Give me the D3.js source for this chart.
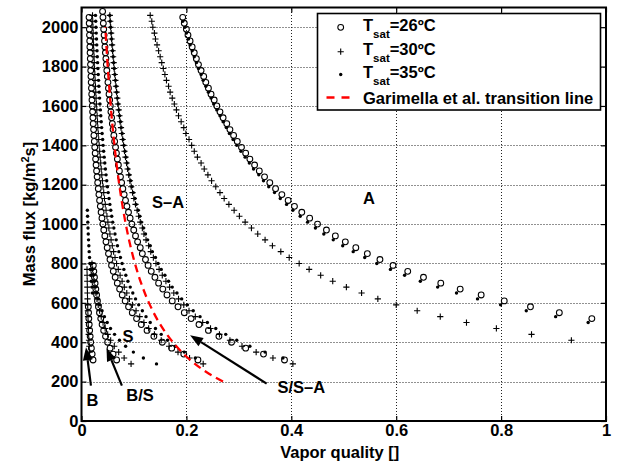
<!DOCTYPE html>
<html>
<head>
<meta charset="utf-8">
<script src="https://cdn.jsdelivr.net/npm/d3@7"></script>
<style>
  body { margin: 0; background: #fff; }
  text { font-family: "Liberation Sans", Arial, Helvetica, sans-serif; font-weight: bold; fill: #000; }
</style>
</head>
<body>
<svg id="chart" width="619" height="463"></svg>
<script>
// Mass flux levels [kg/m2s] of the runs at 26 ºC (circles)
const massFlux26 = [310, 340, 370, 400, 430, 460, 490, 520, 550, 580, 610, 640, 670, 700, 730, 760, 790, 820, 850, 880,
  910, 940, 970, 1000, 1030, 1060, 1090, 1120, 1150, 1180, 1210, 1240, 1270, 1300, 1330, 1360, 1390, 1420, 1450, 1480,
  1510, 1540, 1570, 1600, 1630, 1660, 1690, 1720, 1750, 1780, 1810, 1840, 1870, 1900, 1930, 1960, 1990, 2020, 2050, 2080];
// Mass flux levels [kg/m2s] of the runs at 30 ºC and 35 ºC
const massFlux30_35 = [290, 320, 350, 380, 410, 440, 470, 500, 530, 560, 590, 620, 650, 680, 710, 740, 770, 800, 830, 860,
  890, 920, 950, 980, 1010, 1040, 1070, 1100, 1130, 1160, 1190, 1220, 1250, 1280, 1310, 1340, 1370, 1400, 1430, 1460,
  1490, 1520, 1550, 1580, 1610, 1640, 1670, 1700, 1730, 1760, 1790, 1820, 1850, 1880, 1910, 1940, 1970, 2000, 2030, 2060];

// Transition vapor qualities, listed from the lowest mass flux upwards
// S-A / A transition
const qSA_A_26 = [0.973,0.911,0.856,0.806,0.762,0.722,0.685,0.652,0.622,0.594,0.569,0.545,0.523,0.503,0.484,0.467,0.450,0.435,0.420,0.406,
  0.394,0.382,0.370,0.359,0.349,0.339,0.330,0.321,0.313,0.305,0.297,0.290,0.283,0.277,0.270,0.264,0.258,0.253,0.247,0.242,
  0.237,0.233,0.228,0.223,0.219,0.215,0.211,0.207,0.203,0.200,0.196,0.193];
const qSA_A_35 = [0.966,0.904,0.848,0.799,0.755,0.715,0.679,0.646,0.616,0.589,0.563,0.540,0.518,0.498,0.480,0.462,0.446,0.431,0.417,0.403,
  0.391,0.379,0.368,0.357,0.347,0.338,0.328,0.320,0.312,0.304,0.296,0.289,0.282,0.276,0.270,0.264,0.258,0.252,0.247,0.242,
  0.237,0.232,0.228,0.223,0.219,0.215,0.211,0.207,0.204,0.200,0.197,0.193];
const qSA_A_30 = [0.934,0.858,0.791,0.734,0.684,0.640,0.600,0.565,0.534,0.505,0.479,0.456,0.434,0.415,0.396,0.380,0.364,0.350,0.336,0.324,
  0.312,0.301,0.291,0.281,0.272,0.264,0.256,0.248,0.241,0.234,0.228,0.221,0.215,0.210,0.205,0.199,0.195,0.190,0.185,0.181,
  0.177,0.173,0.169,0.166,0.162,0.159,0.156,0.153,0.150,0.147,0.144,0.141,0.139,0.136,0.134,0.131];
// S/S-A / S-A transition
const qSSA_SA_26 = [0.387,0.347,0.313,0.286,0.262,0.242,0.224,0.209,0.196,0.184,0.173,0.163,0.155,0.147,0.140,0.133,0.127,0.122,0.116,0.112,
  0.107,0.103,0.0996,0.0960,0.0927,0.0896,0.0866,0.0839,0.0813,0.0788,0.0765,0.0743,0.0722,0.0703,0.0684,0.0666,0.0649,0.0632,0.0617,0.0602,
  0.0588,0.0574,0.0561,0.0549,0.0537,0.0525,0.0514,0.0504,0.0493,0.0483,0.0474,0.0465,0.0456,0.0447,0.0439,0.0431,0.0423,0.0416,0.0409,0.0402];
const qSSA_SA_35 = [0.384,0.350,0.321,0.296,0.275,0.256,0.240,0.226,0.213,0.202,0.191,0.182,0.173,0.166,0.159,0.152,0.146,0.141,0.135,0.131,
  0.126,0.122,0.118,0.114,0.111,0.108,0.104,0.102,0.0988,0.0961,0.0936,0.0913,0.0890,0.0869,0.0848,0.0829,0.0810,0.0792,0.0775,0.0758,
  0.0743,0.0727,0.0713,0.0699,0.0685,0.0672,0.0660,0.0648,0.0636,0.0625,0.0614,0.0604,0.0593,0.0584,0.0574,0.0565,0.0556,0.0547,0.0539];
const qSSA_SA_30 = [0.403,0.365,0.333,0.306,0.283,0.263,0.246,0.231,0.217,0.205,0.195,0.185,0.176,0.168,0.161,0.154,0.148,0.142,0.137,0.132,
  0.128,0.123,0.119,0.116,0.112,0.109,0.106,0.103,0.0999,0.0973,0.0948,0.0924,0.0901,0.0880,0.0859,0.0839,0.0820,0.0802,0.0785,0.0769,
  0.0753,0.0737,0.0723,0.0709,0.0695,0.0682,0.0669,0.0657,0.0646,0.0634,0.0623,0.0613,0.0603,0.0593,0.0583,0.0574,0.0565,0.0556,0.0548,0.0540];
// S / S/S-A transition
const qS_SSA_26 = [0.222,0.195,0.172,0.154,0.138,0.125,0.114,0.105,0.0968,0.0897,0.0833,0.0777,0.0727,0.0683,0.0642,0.0606,0.0573,0.0543,0.0515,0.0490,
  0.0467,0.0445,0.0425,0.0407,0.0390,0.0374,0.0359,0.0345,0.0332,0.0320,0.0309,0.0298,0.0288,0.0278,0.0269,0.0261,0.0253,0.0245,0.0237,0.0231,
  0.0224,0.0218,0.0212,0.0206,0.0200,0.0195,0.0190,0.0185,0.0181,0.0176,0.0172,0.0168,0.0164,0.0160,0.0157,0.0153,0.0150,0.0147,0.0144];
const qS_SSA_35 = [0.217,0.196,0.179,0.164,0.152,0.141,0.131,0.123,0.116,0.109,0.103,0.0978,0.0929,0.0885,0.0845,0.0808,0.0774,0.0742,0.0713,0.0686,
  0.0661,0.0638,0.0616,0.0595,0.0576,0.0558,0.0541,0.0525,0.0509,0.0495,0.0481,0.0468,0.0456,0.0444,0.0433,0.0422,0.0412,0.0403,0.0393,0.0384,
  0.0376,0.0368,0.0360,0.0352,0.0345,0.0338,0.0331,0.0325,0.0319,0.0313,0.0307,0.0301,0.0296,0.0291,0.0286,0.0281,0.0276,0.0271,0.0267];
const qS_SSA_30 = [0.232,0.206,0.184,0.167,0.152,0.139,0.128,0.119,0.111,0.104,0.0971,0.0914,0.0863,0.0816,0.0774,0.0736,0.0701,0.0669,0.0639,0.0612,
  0.0587,0.0564,0.0542,0.0522,0.0503,0.0485,0.0468,0.0453,0.0438,0.0424,0.0411,0.0399,0.0387,0.0376,0.0366,0.0356,0.0346,0.0337,0.0328,0.0320,
  0.0312,0.0305,0.0298,0.0291,0.0284,0.0278,0.0272,0.0266,0.0260,0.0255,0.0249,0.0244,0.0240,0.0235,0.0230,0.0226,0.0222,0.0218,0.0214,0.0210];
// B/S / S transition
const qBS_S_26 = [0.0670,0.0602,0.0545,0.0498,0.0458,0.0423,0.0393,0.0367,0.0343,0.0323,0.0304,0.0288,0.0273,0.0259,0.0247,0.0235,0.0225];
const qBS_S_35 = [0.143,0.118,0.0989,0.0841,0.0724,0.0630,0.0553,0.0490,0.0437,0.0392,0.0353,0.0321,0.0292,0.0267,0.0245,0.0226,0.0209,0.0194];
const qBS_S_30 = [0.0945,0.0813,0.0709,0.0625,0.0556,0.0499,0.0451,0.0411,0.0376,0.0345,0.0319,0.0295,0.0275,0.0256,0.0240,0.0225,0.0212,0.0200];
// B / B/S transition
const qB_BS_26 = [0.0220,0.0203,0.0188,0.0175,0.0165,0.0155,0.0147,0.0140,0.0135,0.0130];
const qB_BS_35 = [0.0210,0.0198,0.0187,0.0177,0.0168,0.0160,0.0153,0.0146,0.0140,0.0134,0.0129,0.0124,0.0120,0.0116,0.0112];
const qB_BS_30 = [0.0163,0.0155,0.0148,0.0142,0.0137,0.0132,0.0128,0.0124,0.0121,0.0118,0.0115,0.0113,0.0111,0.0109,0.0107,0.0105];

// Garimella et al. intermittent/annular transition line
const garimellaG = [200, 250, 300, 350, 400, 450, 500, 600, 700, 800, 900, 1000, 1100, 1200, 1300, 1400, 1500, 1600, 1700, 1800, 1900, 2000];
const garimellaQ = [0.2697,0.2373,0.2117,0.1911,0.1742,0.160,0.1479,0.1286,0.1137,0.1019,0.0923,0.0844,0.0777,0.0720,0.0671,0.0628,0.0590,0.0557,0.0527,0.0500,0.0476,0.0454];

const xTicks = [0, 0.2, 0.4, 0.6, 0.8, 1];
const xTickLabels = ["0", "0.2", "0.4", "0.6", "0.8", "1"];
const yTicks = [0, 200, 400, 600, 800, 1000, 1200, 1400, 1600, 1800, 2000];

const legendTemps = ["26", "30", "35"];
const legendLineLabel = "Garimella et al. transition line";

// Each series: marker type, mass flux levels and vapor qualities
const series = [
  { marker: "circle", g: massFlux26.slice(0, 10), q: qB_BS_26 },
  { marker: "plus",   g: massFlux30_35.slice(1, 17), q: qB_BS_30 },
  { marker: "dot",    g: massFlux30_35.slice(12, 27), q: qB_BS_35 },
  { marker: "circle", g: massFlux26.slice(0, 17), q: qBS_S_26 },
  { marker: "plus",   g: massFlux30_35.slice(0, 18), q: qBS_S_30 },
  { marker: "dot",    g: massFlux30_35.slice(0, 18), q: qBS_S_35 },
  { marker: "circle", g: massFlux26.slice(0, 59), q: qS_SSA_26 },
  { marker: "plus",   g: massFlux30_35.slice(0, 60), q: qS_SSA_30 },
  { marker: "dot",    g: massFlux30_35.slice(1, 60), q: qS_SSA_35 },
  { marker: "circle", g: massFlux26.slice(0, 60), q: qSSA_SA_26 },
  { marker: "plus",   g: massFlux30_35.slice(0, 60), q: qSSA_SA_30 },
  { marker: "dot",    g: massFlux30_35.slice(1, 60), q: qSSA_SA_35 },
  { marker: "circle", g: massFlux26.slice(7, 59), q: qSA_A_26 },
  { marker: "plus",   g: massFlux30_35.slice(4, 60), q: qSA_A_30 },
  { marker: "dot",    g: massFlux30_35.slice(7, 59), q: qSA_A_35 }
];

// Flow regime labels and arrows, in data units (quality, mass flux)
const regimeLabels = [
  { text: "S–A", q: 0.165, g: 1112 },
  { text: "A", q: 0.548, g: 1133 },
  { text: "S", q: 0.0887, g: 430 },
  { text: "B", q: 0.021, g: 106 },
  { text: "B/S", q: 0.1115, g: 131 },
  { text: "S/S–A", q: 0.419, g: 169 }
];
const regimeArrows = [
  { from: [0.353, 190], to: [0.207, 436] },
  { from: [0.018, 180], to: [0.0086, 375] },
  { from: [0.077, 180], to: [0.0477, 370] }
];

const svg = d3.select("#chart");
const W = 619, H = 463;
svg.append("rect").attr("width", W).attr("height", H).attr("fill", "#fff");

const x = d3.scaleLinear().domain([0, 1]).range([81.5, 606]);
const y = d3.scaleLinear().domain([0, 2100]).range([421, 7.5]);

// dotted grid
const grid = svg.append("g").attr("stroke", "#222").attr("stroke-width", 1).attr("stroke-dasharray", "1,2");
grid.selectAll("line.gx").data(xTicks.slice(1, -1)).join("line")
  .attr("x1", d => Math.round(x(d)) + 0.5).attr("x2", d => Math.round(x(d)) + 0.5)
  .attr("y1", y.range()[0]).attr("y2", y.range()[1]);
grid.selectAll("line.gy").data(yTicks.slice(1)).join("line")
  .attr("y1", d => Math.round(y(d)) + 0.5).attr("y2", d => Math.round(y(d)) + 0.5)
  .attr("x1", x.range()[0]).attr("x2", x.range()[1]);

// axes with inward ticks (MATLAB style)
const fontSize = 16.5;
const xAxis = svg.append("g").attr("transform", `translate(0,${y.range()[0]})`)
  .call(d3.axisBottom(x).tickValues(xTicks).tickFormat((d, i) => xTickLabels[i]).tickSizeInner(-5).tickSizeOuter(0).tickPadding(3));
const yAxis = svg.append("g").attr("transform", `translate(${x.range()[0]},0)`)
  .call(d3.axisLeft(y).tickValues(yTicks).tickFormat(d3.format("d")).tickSizeInner(-5).tickSizeOuter(0).tickPadding(3));
const xAxisTop = svg.append("g").attr("transform", `translate(0,${y.range()[1]})`)
  .call(d3.axisTop(x).tickValues(xTicks).tickFormat("").tickSizeInner(-5).tickSizeOuter(0));
const yAxisRight = svg.append("g").attr("transform", `translate(${x.range()[1]},0)`)
  .call(d3.axisRight(y).tickValues(yTicks).tickFormat("").tickSizeInner(-5).tickSizeOuter(0));
[xAxis, yAxis, xAxisTop, yAxisRight].forEach(a => {
  a.select(".domain").remove();
  a.selectAll(".tick line").attr("stroke", "#000").attr("stroke-width", 1.2);
  a.selectAll("text").style("font-size", fontSize + "px").style("font-weight", "bold")
    .style("font-family", '"Liberation Sans", Arial, sans-serif').attr("fill", "#000");
});

// marker geometry
const circleR = 2.9, dotR = 1.7, plusArm = 3.1;
const plusPath = (cx, cy) => `M${cx - plusArm},${cy}h${2 * plusArm}M${cx},${cy - plusArm}v${2 * plusArm}`;

// markers
const plot = svg.append("g");
series.forEach(s => {
  const pts = s.q.map((q, i) => ({ q, g: s.g[i] })).filter(p => p.q <= 1);
  const grp = plot.append("g");
  if (s.marker === "circle") {
    grp.selectAll("circle").data(pts).join("circle")
      .attr("cx", d => x(d.q)).attr("cy", d => y(d.g)).attr("r", circleR)
      .attr("fill", "none").attr("stroke", "#000").attr("stroke-width", 1.05);
  } else if (s.marker === "dot") {
    grp.selectAll("circle").data(pts).join("circle")
      .attr("cx", d => x(d.q)).attr("cy", d => y(d.g)).attr("r", dotR)
      .attr("fill", "#000");
  } else {
    grp.selectAll("path").data(pts).join("path")
      .attr("d", d => plusPath(x(d.q), y(d.g)))
      .attr("stroke", "#000").attr("stroke-width", 1.1).attr("fill", "none");
  }
});

// Garimella et al. line
plot.append("path")
  .datum(garimellaG.map((g, i) => ({ g, q: garimellaQ[i] })))
  .attr("d", d3.line().x(d => x(d.q)).y(d => y(d.g)).curve(d3.curveMonotoneY))
  .attr("fill", "none").attr("stroke", "#ff0000").attr("stroke-width", 2.3).attr("stroke-dasharray", "8,5");

// regime labels
svg.append("g").selectAll("text").data(regimeLabels).join("text")
  .attr("x", d => x(d.q)).attr("y", d => y(d.g)).attr("dy", "0.35em")
  .attr("text-anchor", "middle").style("font-size", fontSize + "px").text(d => d.text);

// arrows
const arrows = svg.append("g");
regimeArrows.forEach(a => {
  const x0 = x(a.from[0]), y0 = y(a.from[1]), x1 = x(a.to[0]), y1 = y(a.to[1]);
  const ang = Math.atan2(y1 - y0, x1 - x0);
  const hl = 13, hw = 4.8;
  const bx = x1 - hl * Math.cos(ang), by = y1 - hl * Math.sin(ang);
  arrows.append("line").attr("x1", x0).attr("y1", y0).attr("x2", bx).attr("y2", by)
    .attr("stroke", "#000").attr("stroke-width", 2.2);
  const px = -Math.sin(ang), py = Math.cos(ang);
  arrows.append("path")
    .attr("d", `M${x1},${y1}L${bx + hw * px},${by + hw * py}L${bx - hw * px},${by - hw * py}Z`)
    .attr("fill", "#000");
});

// plot box
svg.append("rect").attr("x", x.range()[0]).attr("y", y.range()[1])
  .attr("width", x.range()[1] - x.range()[0]).attr("height", y.range()[0] - y.range()[1])
  .attr("fill", "none").attr("stroke", "#000").attr("stroke-width", 2);

// axis titles
svg.append("text").attr("x", (x.range()[0] + x.range()[1]) / 2 - 4).attr("y", 458)
  .attr("text-anchor", "middle").style("font-size", fontSize + "px").text("Vapor quality []");
const yt = svg.append("text").attr("transform", "translate(35,214) rotate(-90)")
  .attr("text-anchor", "middle").style("font-size", fontSize + "px");
yt.append("tspan").text("Mass flux [kg/m");
yt.append("tspan").attr("dy", -6).style("font-size", "11px").text("2");
yt.append("tspan").attr("dy", 6).text("s]");

// legend
const lg = svg.append("g");
lg.append("rect").attr("x", 317.5).attr("y", 13.5).attr("width", 283).attr("height", 96.5)
  .attr("fill", "#fff").attr("stroke", "#000").attr("stroke-width", 1.6);
const rowY = [27.3, 51.7, 74.5, 97.5];
const mx = 340.7, tx = 363;
lg.append("circle").attr("cx", mx).attr("cy", rowY[0]).attr("r", circleR).attr("fill", "none").attr("stroke", "#000").attr("stroke-width", 1.05);
lg.append("path").attr("d", plusPath(mx, rowY[1])).attr("stroke", "#000").attr("stroke-width", 1.1);
lg.append("circle").attr("cx", mx).attr("cy", rowY[2]).attr("r", dotR).attr("fill", "#000");
lg.append("line").attr("x1", 326.5).attr("x2", 349.5).attr("y1", rowY[3]).attr("y2", rowY[3])
  .attr("stroke", "#ff0000").attr("stroke-width", 2.3).attr("stroke-dasharray", "8,7");
legendTemps.forEach((t, i) => {
  const tt = lg.append("text").attr("x", tx).attr("y", rowY[i] + 3.5).style("font-size", fontSize + "px");
  tt.append("tspan").text("T");
  tt.append("tspan").attr("dy", 7).style("font-size", "11.5px").text("sat");
  tt.append("tspan").attr("dy", -7).text("=" + t + "ºC");
});
lg.append("text").attr("x", tx).attr("y", rowY[3] + 6).style("font-size", fontSize + "px").text(legendLineLabel);
</script>
</body>
</html>
